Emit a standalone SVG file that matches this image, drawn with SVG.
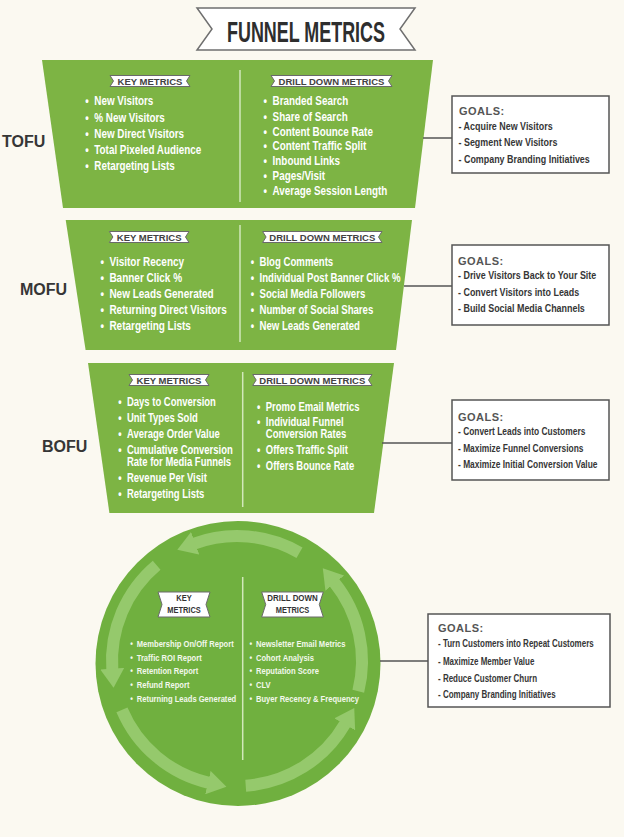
<svg xmlns="http://www.w3.org/2000/svg" width="624" height="837" viewBox="0 0 624 837">
<defs>
<style>
.bg{fill:#fbf9f1}
.fun{fill:#7db444}
.circ{fill:#70b03f}
.div{stroke:#d2e8bb;stroke-width:1.5}
.rib{fill:#ffffff;stroke:#6a6a6a;stroke-width:1}
.ribt{font-family:"Liberation Sans",Arial,sans-serif;font-weight:bold;font-size:9.5px;fill:#424242;text-anchor:middle}
.ribc{font-family:"Liberation Sans",Arial,sans-serif;font-weight:bold;font-size:8.8px;fill:#333333;text-anchor:middle}
.ttl{font-family:"Liberation Sans",Arial,sans-serif;font-weight:bold;font-size:30px;fill:#2e2e2e;text-anchor:middle}
.it{font-family:"Liberation Sans",Arial,sans-serif;font-weight:bold;font-size:12.5px;fill:#ffffff}
.itb{font-family:"Liberation Sans",Arial,sans-serif;font-weight:bold;font-size:12px;fill:#ffffff}
.itc{font-family:"Liberation Sans",Arial,sans-serif;font-weight:bold;font-size:9.5px;fill:#f3f8ec}
.stage{font-family:"Liberation Sans",Arial,sans-serif;font-weight:bold;font-size:16px;fill:#363636}
.gbox{fill:#ffffff;stroke:#555555;stroke-width:1.5}
.gh{font-family:"Liberation Sans",Arial,sans-serif;font-weight:bold;font-size:11px;fill:#555555;letter-spacing:0.5px}
.gi{font-family:"Liberation Sans",Arial,sans-serif;font-weight:bold;font-size:10.5px;fill:#363636}
.gic{font-family:"Liberation Sans",Arial,sans-serif;font-weight:bold;font-size:10px;fill:#363636}
.conn{stroke:#555555;stroke-width:1.5;fill:none}
.ring{stroke:#95c96c;stroke-width:12;fill:none;marker-end:url(#ah)}
</style>
<marker id="ah" markerUnits="userSpaceOnUse" markerWidth="20" markerHeight="24" viewBox="0 0 20 24" refX="1" refY="12" orient="auto">
<path d="M0,0 L19,12 L0,24 Z" fill="#95c96c"/>
</marker>
</defs>
<rect class="bg" x="0" y="0" width="624" height="837"/>

<g id="title">
<polygon points="197,8 415,8 400,29 415,50 197,50 212,29" fill="#ffffff" stroke="#6f6f6f" stroke-width="1.5"/>
<text class="ttl" x="306" y="42" textLength="158" lengthAdjust="spacingAndGlyphs">FUNNEL METRICS</text>
</g>

<g id="tofu">
<polygon class="fun" points="42,60 433,60 415,208 63,208"/>
<line class="div" x1="240" y1="70" x2="240" y2="202"/>
<polygon class="rib" points="110,75.5 190,75.5 186.5,81 190,86.5 110,86.5 113.5,81"/>
<text class="ribt" x="150" y="84.5">KEY METRICS</text>
<polygon class="rib" points="271,75.5 392,75.5 388.5,81 392,86.5 271,86.5 274.5,81"/>
<text class="ribt" x="331.5" y="84.5">DRILL DOWN METRICS</text>
<g class="it" transform="translate(94.3,0) scale(0.79,1)">
<text y="105.5"><tspan x="-11.4">•</tspan><tspan x="0">New Visitors</tspan></text>
<text y="121.7"><tspan x="-11.4">•</tspan><tspan x="0">% New Visitors</tspan></text>
<text y="138"><tspan x="-11.4">•</tspan><tspan x="0">New Direct Visitors</tspan></text>
<text y="154"><tspan x="-11.4">•</tspan><tspan x="0">Total Pixeled Audience</tspan></text>
<text y="170"><tspan x="-11.4">•</tspan><tspan x="0">Retargeting Lists</tspan></text>
</g>
<g class="it" transform="translate(272.6,0) scale(0.79,1)">
<text y="105.5"><tspan x="-11.4">•</tspan><tspan x="0">Branded Search</tspan></text>
<text y="121"><tspan x="-11.4">•</tspan><tspan x="0">Share of Search</tspan></text>
<text y="136"><tspan x="-11.4">•</tspan><tspan x="0">Content Bounce Rate</tspan></text>
<text y="150.5"><tspan x="-11.4">•</tspan><tspan x="0">Content Traffic Split</tspan></text>
<text y="165.5"><tspan x="-11.4">•</tspan><tspan x="0">Inbound Links</tspan></text>
<text y="180.5"><tspan x="-11.4">•</tspan><tspan x="0">Pages/Visit</tspan></text>
<text y="195.5"><tspan x="-11.4">•</tspan><tspan x="0">Average Session Length</tspan></text>
</g>
<text class="stage" x="2" y="147">TOFU</text>
</g>

<g id="mofu">
<polygon class="fun" points="65.7,220 412,220 396,350 85.6,350"/>
<line class="div" x1="240" y1="225" x2="240" y2="342"/>
<polygon class="rib" points="109.4,231.5 189,231.5 185.5,237 189,242.5 109.4,242.5 112.9,237"/>
<text class="ribt" x="149.2" y="240.5">KEY METRICS</text>
<polygon class="rib" points="262.6,231.5 382,231.5 378.5,237 382,242.5 262.6,242.5 266.1,237"/>
<text class="ribt" x="322.3" y="240.5">DRILL DOWN METRICS</text>
<g class="it" transform="translate(109.4,0) scale(0.8,1)">
<text y="266"><tspan x="-11">•</tspan><tspan x="0">Visitor Recency</tspan></text>
<text y="282.5"><tspan x="-11">•</tspan><tspan x="0">Banner Click %</tspan></text>
<text y="298.5"><tspan x="-11">•</tspan><tspan x="0">New Leads Generated</tspan></text>
<text y="314.5"><tspan x="-11">•</tspan><tspan x="0">Returning Direct Visitors</tspan></text>
<text y="330.5"><tspan x="-11">•</tspan><tspan x="0">Retargeting Lists</tspan></text>
</g>
<g class="it" transform="translate(259.5,0) scale(0.77,1)">
<text y="266"><tspan x="-11.5">•</tspan><tspan x="0">Blog Comments</tspan></text>
<text y="282.5"><tspan x="-11.5">•</tspan><tspan x="0">Individual Post Banner Click %</tspan></text>
<text y="298.5"><tspan x="-11.5">•</tspan><tspan x="0">Social Media Followers</tspan></text>
<text y="314.5"><tspan x="-11.5">•</tspan><tspan x="0">Number of Social Shares</tspan></text>
<text y="330.5"><tspan x="-11.5">•</tspan><tspan x="0">New Leads Generated</tspan></text>
</g>
<text class="stage" x="20" y="295">MOFU</text>
</g>

<g id="bofu">
<polygon class="fun" points="88,363 394,363 374,513 109.4,513"/>
<line class="div" x1="242.7" y1="372" x2="242.7" y2="507"/>
<polygon class="rib" points="129,374.5 209,374.5 205.5,380 209,385.5 129,385.5 132.5,380"/>
<text class="ribt" x="169" y="383.5">KEY METRICS</text>
<polygon class="rib" points="252.7,374.5 372,374.5 368.5,380 372,385.5 252.7,385.5 256.2,380"/>
<text class="ribt" x="312.3" y="383.5">DRILL DOWN METRICS</text>
<g class="itb" transform="translate(127,0) scale(0.79,1)">
<text y="406.5"><tspan x="-11">•</tspan><tspan x="0">Days to Conversion</tspan></text>
<text y="422.5"><tspan x="-11">•</tspan><tspan x="0">Unit Types Sold</tspan></text>
<text y="438.5"><tspan x="-11">•</tspan><tspan x="0">Average Order Value</tspan></text>
<text y="454"><tspan x="-11">•</tspan><tspan x="0">Cumulative Conversion</tspan></text>
<text x="0" y="466.5">Rate for Media Funnels</text>
<text y="482"><tspan x="-11">•</tspan><tspan x="0">Revenue Per Visit</tspan></text>
<text y="498"><tspan x="-11">•</tspan><tspan x="0">Retargeting Lists</tspan></text>
</g>
<g class="itb" transform="translate(265.8,0) scale(0.79,1)">
<text y="411"><tspan x="-11">•</tspan><tspan x="0">Promo Email Metrics</tspan></text>
<text y="426"><tspan x="-11">•</tspan><tspan x="0">Individual Funnel</tspan></text>
<text x="0" y="438.5">Conversion Rates</text>
<text y="454.5"><tspan x="-11">•</tspan><tspan x="0">Offers Traffic Split</tspan></text>
<text y="470"><tspan x="-11">•</tspan><tspan x="0">Offers Bounce Rate</tspan></text>
</g>
<text class="stage" x="42" y="451.5">BOFU</text>
</g>

<g id="loyalty">
<circle class="circ" cx="238" cy="663.5" r="142.5"/>
<path class="ring" d="M299.5,552.75 A125,125 0 0 0 194.25,543.54"/>
<path class="ring" d="M156.65,565.24 A125,125 0 0 0 112.3,669.72"/>
<path class="ring" d="M121.94,709.84 A125,125 0 0 0 208.88,782.8"/>
<path class="ring" d="M245.72,785.7 A125,125 0 0 0 345.25,723.5"/>
<path class="ring" d="M358.29,691.24 A125,125 0 0 0 334.14,582.34"/>
<line class="div" x1="242.7" y1="577" x2="242.7" y2="760"/>
<polygon class="rib" points="158,592 210,592 206,604.5 210,617 158,617 162,604.5"/>
<text class="ribc" x="184" y="601" textLength="15.5" lengthAdjust="spacingAndGlyphs">KEY</text>
<text class="ribc" x="184" y="613" textLength="33.5" lengthAdjust="spacingAndGlyphs">METRICS</text>
<polygon class="rib" points="261.7,592 323.3,592 319.3,604.5 323.3,617 261.7,617 265.7,604.5"/>
<text class="ribc" x="292.5" y="601" textLength="50.5" lengthAdjust="spacingAndGlyphs">DRILL DOWN</text>
<text class="ribc" x="292.5" y="613" textLength="33.5" lengthAdjust="spacingAndGlyphs">METRICS</text>
<g class="itc" transform="translate(136.7,0) scale(0.8,1)">
<text y="647"><tspan x="-8">•</tspan><tspan x="0">Membership On/Off Report</tspan></text>
<text y="661"><tspan x="-8">•</tspan><tspan x="0">Traffic ROI Report</tspan></text>
<text y="674.5"><tspan x="-8">•</tspan><tspan x="0">Retention Report</tspan></text>
<text y="688.5"><tspan x="-8">•</tspan><tspan x="0">Refund Report</tspan></text>
<text y="702.5"><tspan x="-8">•</tspan><tspan x="0">Returning Leads Generated</tspan></text>
</g>
<g class="itc" transform="translate(256,0) scale(0.8,1)">
<text y="647"><tspan x="-8">•</tspan><tspan x="0">Newsletter Email Metrics</tspan></text>
<text y="661"><tspan x="-8">•</tspan><tspan x="0">Cohort Analysis</tspan></text>
<text y="674.5"><tspan x="-8">•</tspan><tspan x="0">Reputation Score</tspan></text>
<text y="688.5"><tspan x="-8">•</tspan><tspan x="0">CLV</tspan></text>
<text y="702.5"><tspan x="-8">•</tspan><tspan x="0">Buyer Recency &amp; Frequency</tspan></text>
</g>
</g>

<g id="goals-tofu">
<rect class="gbox" x="452" y="96" width="157" height="77"/>
<text class="gh" x="459" y="115">GOALS:</text>
<g class="gi" transform="translate(458.5,0) scale(0.85,1)">
<text x="0" y="130">- Acquire New Visitors</text>
<text x="0" y="146.5">- Segment New Visitors</text>
<text x="0" y="163">- Company Branding Initiatives</text>
</g>
</g>

<g id="goals-mofu">
<rect class="gbox" x="452" y="245" width="157" height="80"/>
<text class="gh" x="458" y="265">GOALS:</text>
<g class="gi" transform="translate(458,0) scale(0.85,1)">
<text x="0" y="279.5">- Drive Visitors Back to Your Site</text>
<text x="0" y="296">- Convert Visitors into Leads</text>
<text x="0" y="312.5">- Build Social Media Channels</text>
</g>
</g>

<g id="goals-bofu">
<rect class="gbox" x="452" y="400" width="157" height="80"/>
<text class="gh" x="458" y="421">GOALS:</text>
<g class="gi" transform="translate(458,0) scale(0.8,1)">
<text x="0" y="435">- Convert Leads into Customers</text>
<text x="0" y="451.7">- Maximize Funnel Conversions</text>
<text x="0" y="468.3">- Maximize Initial Conversion Value</text>
</g>
</g>

<g id="goals-loyalty">
<rect class="gbox" x="428" y="614" width="182" height="93"/>
<text class="gh" x="438" y="632">GOALS:</text>
<g class="gic" transform="translate(438,0) scale(0.8,1)">
<text x="0" y="647.3">- Turn Customers into Repeat Customers</text>
<text x="0" y="665">- Maximize Member Value</text>
<text x="0" y="681.7">- Reduce Customer Churn</text>
<text x="0" y="698.3">- Company Branding Initiatives</text>
</g>
</g>

<g id="connectors">
<line class="conn" x1="423" y1="138" x2="452" y2="138"/>
<line class="conn" x1="404" y1="286" x2="452" y2="286"/>
<line class="conn" x1="382" y1="443" x2="452" y2="443"/>
<line class="conn" x1="380" y1="661" x2="428" y2="661"/>
</g>
</svg>
